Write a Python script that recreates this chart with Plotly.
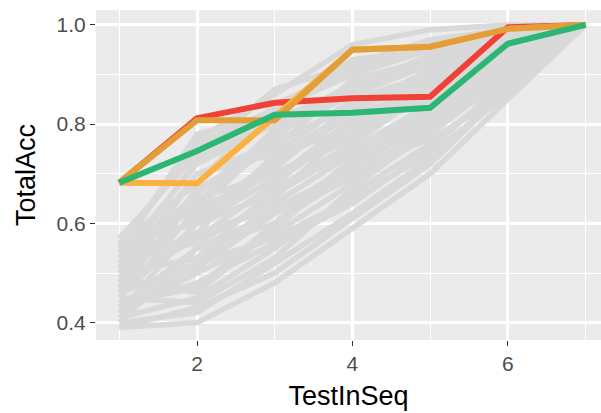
import plotly.graph_objects as go

# Position of each test within the sequence
test_in_seq = [1, 2, 3, 4, 5, 6, 7]

# Cumulative accuracy of every other run (drawn as grey context lines)
other_runs = [
    [0.39, 0.40, 0.48, 0.59, 0.70, 0.85, 1.0],
    [0.40, 0.42, 0.52, 0.62, 0.73, 0.87, 1.0],
    [0.41, 0.45, 0.55, 0.66, 0.76, 0.88, 1.0],
    [0.42, 0.50, 0.58, 0.68, 0.78, 0.90, 1.0],
    [0.43, 0.55, 0.62, 0.72, 0.80, 0.91, 1.0],
    [0.44, 0.47, 0.60, 0.70, 0.82, 0.92, 1.0],
    [0.45, 0.60, 0.66, 0.75, 0.84, 0.93, 1.0],
    [0.46, 0.52, 0.64, 0.74, 0.83, 0.90, 1.0],
    [0.47, 0.65, 0.70, 0.78, 0.86, 0.94, 1.0],
    [0.48, 0.57, 0.68, 0.80, 0.88, 0.95, 1.0],
    [0.49, 0.62, 0.72, 0.82, 0.87, 0.96, 1.0],
    [0.50, 0.70, 0.76, 0.84, 0.90, 0.97, 1.0],
    [0.51, 0.58, 0.74, 0.79, 0.85, 0.93, 1.0],
    [0.52, 0.66, 0.78, 0.86, 0.92, 0.98, 1.0],
    [0.53, 0.72, 0.80, 0.88, 0.93, 0.97, 1.0],
    [0.54, 0.63, 0.70, 0.77, 0.89, 0.95, 1.0],
    [0.55, 0.76, 0.83, 0.90, 0.95, 0.99, 1.0],
    [0.56, 0.68, 0.84, 0.91, 0.96, 0.98, 1.0],
    [0.40, 0.55, 0.60, 0.73, 0.81, 0.92, 1.0],
    [0.43, 0.48, 0.56, 0.64, 0.75, 0.89, 1.0],
    [0.45, 0.44, 0.53, 0.67, 0.79, 0.91, 1.0],
    [0.47, 0.58, 0.63, 0.71, 0.77, 0.86, 1.0],
    [0.50, 0.53, 0.67, 0.76, 0.87, 0.94, 1.0],
    [0.52, 0.61, 0.73, 0.83, 0.91, 0.96, 1.0],
    [0.55, 0.64, 0.79, 0.87, 0.94, 0.99, 1.0],
    [0.48, 0.70, 0.74, 0.85, 0.90, 0.95, 1.0],
    [0.42, 0.60, 0.69, 0.81, 0.86, 0.94, 1.0],
    [0.57, 0.74, 0.87, 0.92, 0.97, 0.99, 1.0],
    [0.44, 0.51, 0.62, 0.69, 0.80, 0.88, 1.0],
    [0.39, 0.43, 0.50, 0.61, 0.72, 0.87, 1.0],
    [0.53, 0.56, 0.65, 0.80, 0.85, 0.97, 1.0],
    [0.46, 0.67, 0.75, 0.89, 0.93, 0.98, 1.0],
    [0.49, 0.46, 0.59, 0.72, 0.83, 0.93, 1.0],
    [0.51, 0.73, 0.81, 0.87, 0.92, 0.96, 1.0],
    [0.41, 0.52, 0.57, 0.65, 0.74, 0.86, 1.0],
    [0.54, 0.78, 0.82, 0.93, 0.95, 0.98, 1.0],
    [0.56, 0.60, 0.71, 0.84, 0.88, 0.95, 1.0],
    [0.45, 0.63, 0.77, 0.83, 0.89, 0.97, 1.0],
    [0.55, 0.77, 0.86, 0.96, 0.99, 1.0, 1.0],
]

# Highlighted runs
run_red = [0.682, 0.812, 0.843, 0.852, 0.855, 0.995, 1.0]
run_light_orange = [0.682, 0.681, 0.815, 0.950, 0.956, 0.992, 1.0]
run_dark_orange = [0.682, 0.808, 0.808, 0.950, 0.956, 0.992, 1.0]
run_green = [0.682, 0.746, 0.819, 0.823, 0.833, 0.962, 1.0]

highlighted = [
    (run_red, "#EF4136"),
    (run_light_orange, "#FBB040"),
    (run_dark_orange, "#E39E37"),
    (run_green, "#2BB673"),
]

fig = go.Figure()

for run in other_runs:
    fig.add_trace(go.Scatter(
        x=test_in_seq, y=run, mode="lines",
        line=dict(color="#D9D9D9", width=5.5),
        hoverinfo="skip",
    ))

for values, color in highlighted:
    fig.add_trace(go.Scatter(
        x=test_in_seq, y=values, mode="lines",
        line=dict(color=color, width=6),
    ))

axis_common = dict(
    showline=False,
    zeroline=False,
    showgrid=True,
    gridcolor="#FFFFFF",
    gridwidth=2.6,
    ticks="outside",
    ticklen=5,
    tickwidth=1.3,
    tickcolor="#333333",
    tickfont=dict(family="Liberation Sans", size=21, color="#4D4D4D"),
    title_font=dict(family="Liberation Sans", size=27, color="#000000"),
)

fig.update_layout(
    width=601,
    height=413,
    margin=dict(l=96, r=0, t=10, b=73),
    paper_bgcolor="#FFFFFF",
    plot_bgcolor="#EBEBEB",
    showlegend=False,
    xaxis=dict(
        axis_common,
        range=[0.7, 7.2],
        tickvals=[2, 4, 6],
        minor=dict(tickvals=[1, 3, 5, 7], showgrid=True, gridcolor="#FFFFFF",
                   gridwidth=1.4, ticks=""),
        title=dict(text="TestInSeq", standoff=11),
    ),
    yaxis=dict(
        axis_common,
        range=[0.365, 1.030],
        tickvals=[0.4, 0.6, 0.8, 1.0],
        ticktext=["0.4", "0.6", "0.8", "1.0"],
        minor=dict(tickvals=[0.5, 0.7, 0.9], showgrid=True, gridcolor="#FFFFFF",
                   gridwidth=1.4, ticks=""),
        title=dict(text="TotalAcc", standoff=13),
    ),
)

fig.write_html("out.html")
